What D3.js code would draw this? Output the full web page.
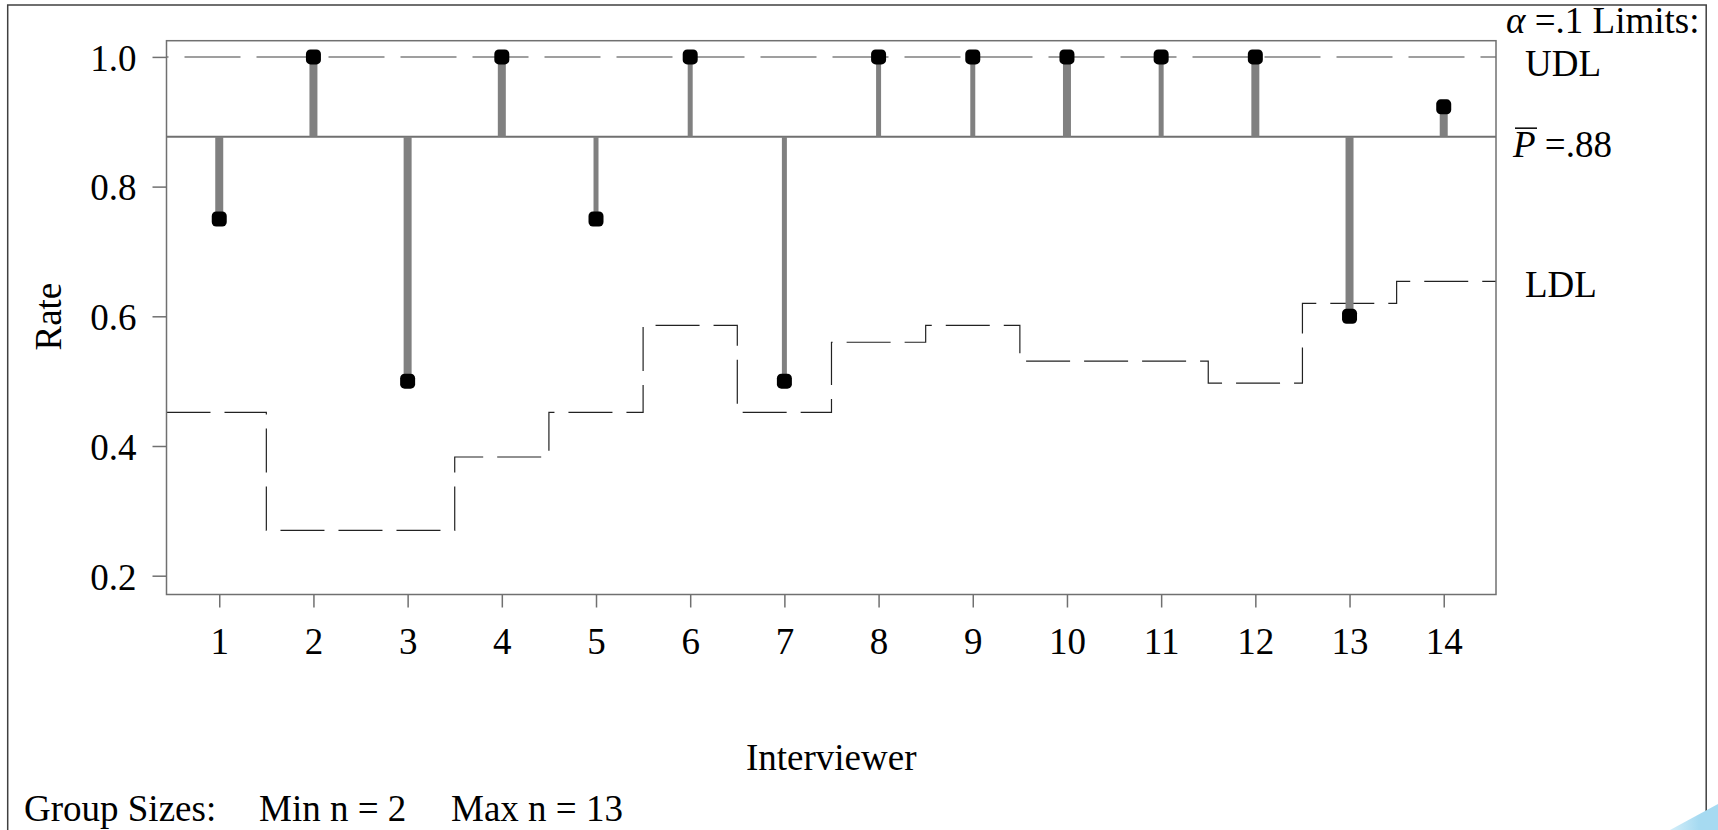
<!DOCTYPE html>
<html>
<head>
<meta charset="utf-8">
<script src="https://cdn.jsdelivr.net/npm/d3@7"></script>
<style>
  body { margin: 0; background: #fff; }
  svg text { font-family: "Liberation Serif", "Times New Roman", serif; fill: #000; }
  .axis path.domain { display: none; }
  .axis line { stroke: #707070; stroke-width: 1.5; }
  .axis text { font-size: 37px; }
</style>
</head>
<body>
<svg id="chart"></svg>
<script>
// Interviewer proportions
const interviewers = [1, 2, 3, 4, 5, 6, 7, 8, 9, 10, 11, 12, 13, 14];
const rates = [0.75, 1.0, 0.5, 1.0, 0.75, 1.0, 0.5, 1.0, 1.0, 1.0, 1.0, 1.0, 0.6, 0.923];
const ldl = [0.452, 0.270, 0.270, 0.383, 0.452, 0.586, 0.452, 0.560, 0.586, 0.531, 0.531, 0.497, 0.620, 0.654];
const udl = 1.0;
const pBar = 0.877;
const yTicks = [0.2, 0.4, 0.6, 0.8, 1.0];

// stems drawn heavier for these interviewers
const heavyStems = [1, 2, 3, 4, 10, 12, 13, 14];

class AnomChart {

  constructor(_config) {
    this.config = {
      parentElement: _config.parentElement,
      containerWidth: 1718,
      containerHeight: 830,
      markerSize: 15,
      margin: {top: 40.7, right: 222, bottom: 235.5, left: 166.5}
    };
    this.initVis();
  }

  initVis() {
    let vis = this;
    const m = vis.config.margin;

    vis.width = vis.config.containerWidth - m.left - m.right;
    vis.height = vis.config.containerHeight - m.top - m.bottom;

    vis.xScale = d3.scaleLinear()
        .domain([0.44, 14.555])
        .range([0, vis.width]);

    vis.yScale = d3.scaleLinear()
        .domain([0.171, 1.025])
        .range([vis.height, 0]);

    vis.xAxis = d3.axisBottom(vis.xScale)
        .tickValues(interviewers)
        .tickFormat(d3.format('d'))
        .tickSize(13)
        .tickPadding(20);

    vis.yAxis = d3.axisLeft(vis.yScale)
        .tickValues(yTicks)
        .tickFormat(d3.format('.1f'))
        .tickSize(14)
        .tickPadding(16);

    vis.svg = d3.select(vis.config.parentElement)
        .attr('width', vis.config.containerWidth)
        .attr('height', vis.config.containerHeight);

    // slide frame
    vis.svg.append('rect')
        .attr('x', 7.7)
        .attr('y', 5)
        .attr('width', 1698.5)
        .attr('height', 850)
        .attr('fill', 'none')
        .attr('stroke', '#404040')
        .attr('stroke-width', 1.5);

    // slide decoration in the corner
    const grad = vis.svg.append('defs').append('linearGradient')
        .attr('id', 'deco')
        .attr('x1', '0%').attr('x2', '100%');
    grad.append('stop').attr('offset', '0%').attr('stop-color', '#d4eef9');
    grad.append('stop').attr('offset', '60%').attr('stop-color', '#a6daf1');

    vis.svg.append('path')
        .attr('d', 'M1670,830 L1718,804 L1718,830 Z')
        .attr('fill', 'url(#deco)');

    vis.chartArea = vis.svg.append('g')
        .attr('transform', `translate(${m.left},${m.top})`);

    vis.xAxisG = vis.chartArea.append('g')
        .attr('class', 'axis x-axis')
        .attr('transform', `translate(0,${vis.height})`);

    vis.yAxisG = vis.chartArea.append('g')
        .attr('class', 'axis y-axis');

    vis.chart = vis.chartArea.append('g');

    // Axis titles
    vis.svg.append('text')
        .attr('transform', `translate(61,${m.top + vis.height / 2 - 1}) rotate(-90)`)
        .attr('text-anchor', 'middle')
        .style('font-size', '37px')
        .text('Rate');

    vis.svg.append('text')
        .attr('x', m.left + vis.width / 2)
        .attr('y', 770)
        .attr('text-anchor', 'middle')
        .style('font-size', '37px')
        .text('Interviewer');

    // Group size footnote
    const foot = [['Group Sizes:', 24], ['Min n = 2', 259], ['Max n = 13', 451]];
    vis.svg.selectAll('.foot')
        .data(foot)
        .join('text')
        .attr('class', 'foot')
        .attr('x', d => d[1])
        .attr('y', 821)
        .style('font-size', '37px')
        .text(d => d[0]);
  }

  renderVis() {
    let vis = this;
    const xs = vis.xScale, ys = vis.yScale;
    const [x0, x1] = xs.domain();
    const ms = vis.config.markerSize;

    // Upper decision limit
    vis.chart.append('line')
        .attr('x1', 0)
        .attr('x2', vis.width)
        .attr('y1', ys(udl))
        .attr('y2', ys(udl))
        .attr('stroke', '#808080')
        .attr('stroke-width', 1.5)
        .attr('stroke-dasharray', '56,16')
        .attr('stroke-dashoffset', -18);

    // Lower decision limit as a step line
    const stepPts = interviewers.map((d, i) => [i === 0 ? x0 : d - 0.5, ldl[i]]);
    stepPts.push([x1, ldl[ldl.length - 1]]);

    const stepLine = d3.line()
        .x(d => xs(d[0]))
        .y(d => ys(d[1]))
        .curve(d3.curveStepAfter);

    vis.chart.append('path')
        .datum(stepPts)
        .attr('d', stepLine)
        .attr('fill', 'none')
        .attr('stroke', '#222')
        .attr('stroke-width', 1.2)
        .attr('stroke-dasharray', '44,14');

    // Centre line
    vis.chart.append('line')
        .attr('x1', 0)
        .attr('x2', vis.width)
        .attr('y1', ys(pBar))
        .attr('y2', ys(pBar))
        .attr('stroke', '#707070')
        .attr('stroke-width', 2);

    // Stems
    vis.chart.selectAll('.stem')
        .data(interviewers)
        .join('line')
        .attr('class', 'stem')
        .attr('x1', d => xs(d))
        .attr('x2', d => xs(d))
        .attr('y1', ys(pBar))
        .attr('y2', (d, i) => ys(rates[i]))
        .attr('stroke', '#808080')
        .attr('stroke-width', d => heavyStems.includes(d) ? 8 : 5);

    // Points
    vis.chart.selectAll('.pt')
        .data(interviewers)
        .join('rect')
        .attr('class', 'pt')
        .attr('x', d => xs(d) - ms / 2)
        .attr('y', (d, i) => ys(rates[i]) - ms / 2)
        .attr('width', ms)
        .attr('height', ms)
        .attr('rx', 4.5)
        .attr('fill', '#000');

    // Plot frame
    vis.chartArea.append('rect')
        .attr('width', vis.width)
        .attr('height', vis.height)
        .attr('fill', 'none')
        .attr('stroke', '#707070')
        .attr('stroke-width', 1.5);

    vis.xAxisG.call(vis.xAxis);
    vis.yAxisG.call(vis.yAxis);
    vis.yAxisG.selectAll('text').attr('dy', '0.36em');

    // Limit labels on the right
    const lx = vis.config.margin.left + vis.width;
    const ty = v => vis.config.margin.top + ys(v);

    const alpha = vis.svg.append('text')
        .attr('x', lx + 10)
        .attr('y', 33)
        .style('font-size', '37px');
    alpha.append('tspan').style('font-style', 'italic').text('α');
    alpha.append('tspan').text(' =.1 Limits:');

    vis.svg.append('text')
        .attr('x', lx + 29)
        .attr('y', ty(udl) + 19)
        .style('font-size', '37px')
        .text('UDL');

    const pl = vis.svg.append('text')
        .attr('x', lx + 17)
        .attr('y', ty(pBar) + 20)
        .style('font-size', '37px');
    pl.append('tspan').style('font-style', 'italic').text('P');
    pl.append('tspan').text(' =.88');

    vis.svg.append('line')
        .attr('x1', lx + 19)
        .attr('x2', lx + 41)
        .attr('y1', ty(pBar) - 8.5)
        .attr('y2', ty(pBar) - 8.5)
        .attr('stroke', '#000')
        .attr('stroke-width', 1.5);

    vis.svg.append('text')
        .attr('x', lx + 29)
        .attr('y', ty(ldl[ldl.length - 1]) + 16)
        .style('font-size', '37px')
        .text('LDL');
  }
}

const chart = new AnomChart({parentElement: '#chart'});
chart.renderVis();
</script>
</body>
</html>
